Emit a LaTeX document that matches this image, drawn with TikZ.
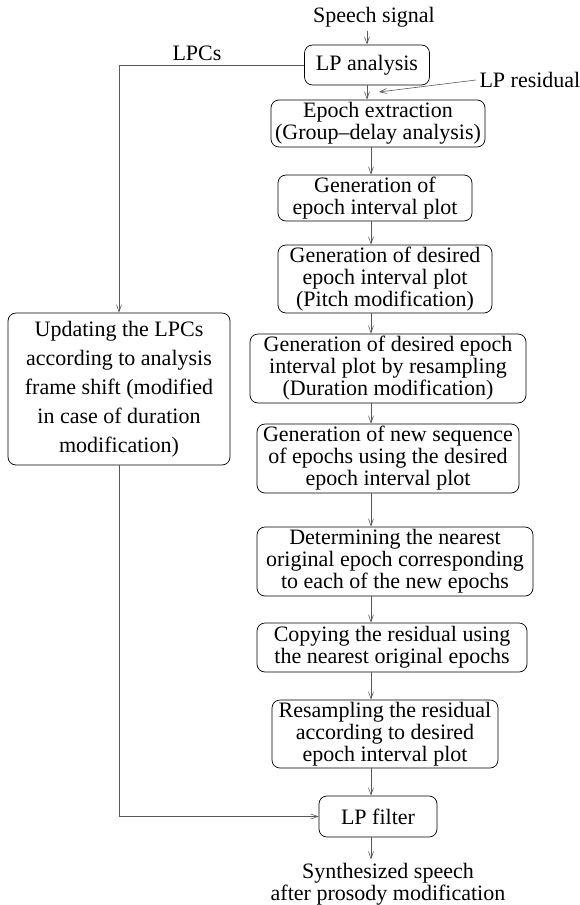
\documentclass[tikz,border=0pt]{standalone}
\usepackage{fontspec}
\setmainfont{Liberation Serif}
\usetikzlibrary{arrows.meta}
\begin{document}
\begin{tikzpicture}[x=1pt,y=1pt,
  >={Straight Barb[length=7pt,width=5pt]},
  every node/.style={font=\fontsize{22}{22}\selectfont},
  blk/.style={draw,rounded corners=8pt,align=center,inner sep=0pt,line width=0.7pt},
  flow/.style={->,draw=black!65,line width=0.6pt}]
\useasboundingbox (0,0) rectangle (579,-905);
\coordinate (col) at (371,0);
\node (sig) at (374,-17) {Speech signal};
\node[blk,minimum width=125,minimum height=40] (lpa) at (367,-65) {LP analysis};
\node[blk,minimum width=214,minimum height=47] (epo) at (378,-123.5) {Epoch extraction\\(Group--delay analysis)};
\node[blk,minimum width=194,minimum height=46] (eip) at (375,-198) {Generation of\\epoch interval plot};
\node[blk,minimum width=214,minimum height=68] (pit) at (385,-279) {Generation of desired\\epoch interval plot\\(Pitch modification)};
\node[blk,minimum width=276,minimum height=69] (dur) at (388,-368.5) {Generation of desired epoch\\interval plot by resampling\\(Duration modification)};
\node[blk,minimum width=262,minimum height=69] (seq) at (388,-458.5) {Generation of new sequence\\of epochs using the desired\\epoch interval plot};
\node[blk,minimum width=276,minimum height=69] (near) at (395,-561.5) {Determining the nearest\\original epoch corresponding\\to each of the new epochs};
\node[blk,minimum width=270,minimum height=49] (copy) at (392,-647.5) {Copying the residual using\\the nearest original epochs};
\node[blk,minimum width=226,minimum height=68] (rsm) at (385,-734) {Resampling the residual\\according to desired\\epoch interval plot};
\node[blk,minimum width=118,minimum height=41] (lpf) at (378,-816.5) {LP filter};
\node[align=center] (out) at (388,-884) {Synthesized speech\\after prosody modification};
\node[blk,minimum width=222,minimum height=152,font=\fontsize{22}{29}\selectfont] (upd) at (119,-389)
  {Updating the LPCs\\according to analysis\\frame shift (modified\\in case of duration\\modification)};
\node (lpcs) at (197,-53) {LPCs};
\node[anchor=west] (res) at (476,-80) {LP residual};
\coordinate (restip) at (379,-92);

\draw[flow] (lpa |- sig.south) -- (lpa.north);
\draw[flow] (lpa.south) -- (lpa.south |- epo.north);
\draw[flow] (res.west) -- (restip);
\draw[flow] (epo.south -| col) -- (eip.north -| col);
\draw[flow] (eip.south -| col) -- (pit.north -| col);
\draw[flow] (pit.south -| col) -- (dur.north -| col);
\draw[flow] (dur.south -| col) -- (seq.north -| col);
\draw[flow] (seq.south -| col) -- (near.north -| col);
\draw[flow] (near.south -| col) -- (copy.north -| col);
\draw[flow] (copy.south -| col) -- (rsm.north -| col);
\draw[flow] (rsm.south -| col) -- (lpf.north -| col);
\draw[flow] (lpf.south -| col) -- (out.north -| col);
\draw[flow] (lpa.west) -| (upd.north);
\draw[flow] (upd.south) |- (lpf.west);
\end{tikzpicture}
\end{document}
